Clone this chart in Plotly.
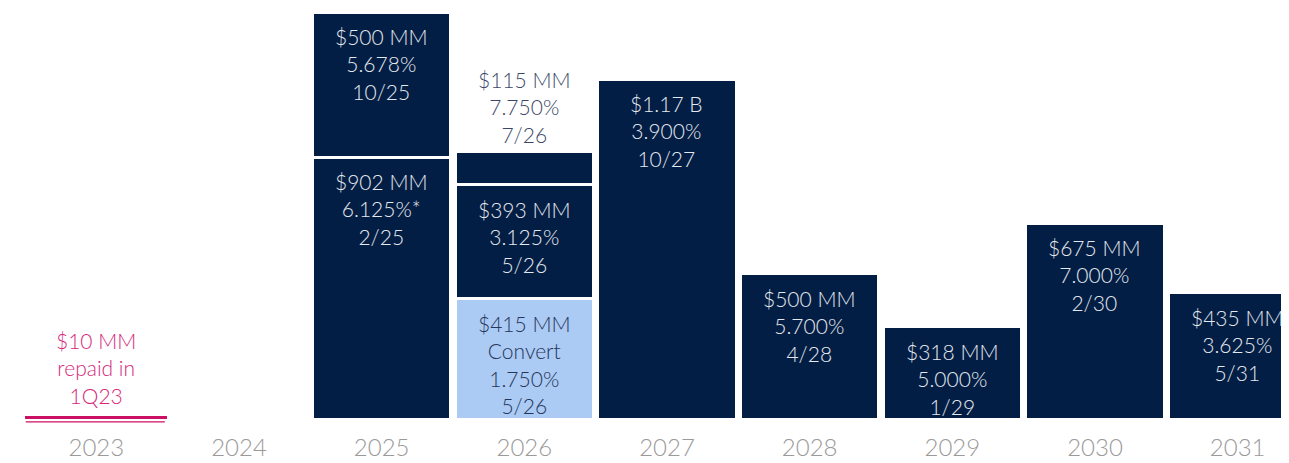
import plotly.graph_objects as go

years = ["2023", "2024", "2025", "2026", "2027", "2028", "2029", "2030", "2031"]

# Debt maturities ($MM), stacked layers
repaid = [10, None, None, None, None, None, None, None, None]
layer1 = [None, None, 902, 415, 1170, 500, 318, 675, 435]
layer2 = [None, None, 500, 393, None, None, None, None, None]
layer3 = [None, None, None, 115, None, None, None, None, None]

repaid_labels = ["$10 MM<br>repaid in<br>1Q23", None, None, None, None, None, None, None, None]
layer1_labels = [None, None, "$902 MM<br>6.125%*<br>2/25", "$415 MM<br>Convert<br>1.750%<br>5/26",
                 "$1.17 B<br>3.900%<br>10/27", "$500 MM<br>5.700%<br>4/28", "$318 MM<br>5.000%<br>1/29",
                 "$675 MM<br>7.000%<br>2/30", "$435 MM<br>3.625%<br>5/31"]
layer2_labels = [None, None, "$500 MM<br>5.678%<br>10/25", "$393 MM<br>3.125%<br>5/26",
                 None, None, None, None, None]
layer3_labels = [None, None, None, "$115 MM<br>7.750%<br>7/26", None, None, None, None, None]
convert_year = "2026"

NAVY = "#031e44"
LIGHT = "#abcaf4"
PINK = "#cc1164"
FONT = "Lato"

fig = go.Figure()

fig.add_trace(go.Bar(x=years, y=repaid, width=0.995, marker=dict(color=PINK, line=dict(width=0)),
                     hoverinfo="skip"))
l1_colors = [LIGHT if y == convert_year else NAVY for y in years]
fig.add_trace(go.Bar(x=years, y=layer1, marker=dict(color=l1_colors, line=dict(color="white", width=3)),
                     hoverinfo="skip"))
fig.add_trace(go.Bar(x=years, y=layer2, marker=dict(color=NAVY, line=dict(color="white", width=3)),
                     hoverinfo="skip"))
fig.add_trace(go.Bar(x=years, y=layer3, marker=dict(color=NAVY, line=dict(color="white", width=3)),
                     hoverinfo="skip"))


def val(v):
    return v if v is not None else 0


annotations = []
for i, yr in enumerate(years):
    base = val(repaid[i])
    for layer, labels in ((layer1, layer1_labels), (layer2, layer2_labels)):
        if layer[i] is not None:
            top = base + layer[i]
            if labels[i]:
                color = "#25365a" if (layer is layer1 and yr == convert_year) else "#e4e8ef"
                annotations.append(dict(x=i, y=top, text=labels[i], showarrow=False, yanchor="top",
                                        xanchor="center", yshift=-10, align="center",
                                        font=dict(family=FONT, size=21, color=color, weight=300)))
            base = top
    if layer3[i] is not None:
        top = base + layer3[i]
        annotations.append(dict(x=i, y=top, text=layer3_labels[i], showarrow=False, yanchor="bottom",
                                xanchor="center", yshift=2, align="center",
                                font=dict(family=FONT, size=21, color="#3a4968", weight=300)))
    if repaid[i] is not None:
        annotations.append(dict(x=i, y=repaid[i], text=repaid_labels[i], showarrow=False, yanchor="bottom",
                                xanchor="center", yshift=6, align="center",
                                font=dict(family=FONT, size=21, color="#d6287a", weight=300)))

# thin underline beneath the repaid bar
shapes = []
for i, yr in enumerate(years):
    if repaid[i] is not None:
        shapes.append(dict(type="line", xref="x", yref="y", x0=i - 0.495, x1=i + 0.48,
                           y0=-10, y1=-10, line=dict(color=PINK, width=1.2)))

fig.update_layout(
    width=1281, height=455,
    barmode="stack", bargap=0.032,
    showlegend=False,
    plot_bgcolor="white", paper_bgcolor="white",
    margin=dict(l=17, r=0, t=0, b=39),
    annotations=annotations,
    shapes=shapes,
    xaxis=dict(type="category", range=[-0.5, 8.36], showgrid=False, showline=False, zeroline=False,
               ticks="", ticklabelstandoff=7, automargin=False,
               tickfont=dict(family=FONT, size=24, color="#9a9a9a", weight=300)),
    yaxis=dict(range=[-17, 1416], visible=False, showgrid=False, zeroline=False, automargin=False),
)

fig.write_html("out.html")
